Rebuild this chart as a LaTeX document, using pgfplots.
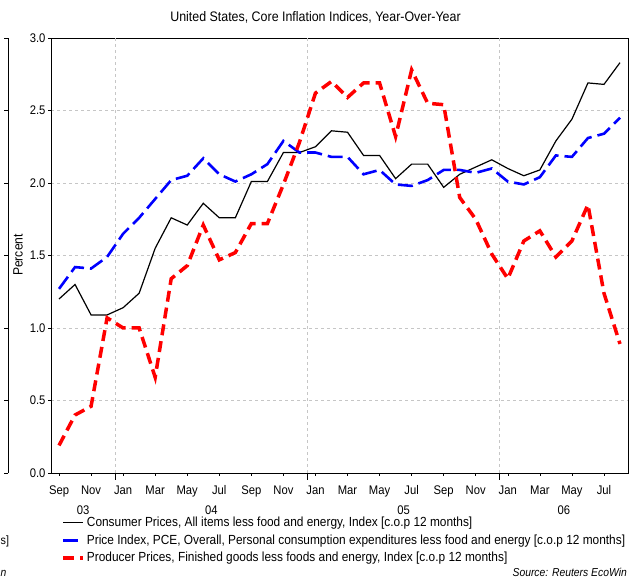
\documentclass[border=0pt]{standalone}
\usepackage{fontspec}
\setmainfont{Liberation Sans}[FakeStretch=0.9]
\usepackage{pgfplots}
\usepackage{pgfplotstable}
\pgfplotsset{compat=1.18}

\pgfplotstableread{
i  cpi   pce   ppi
0  1.20  1.27  0.19
1  1.30  1.42  0.40
2  1.09  1.41  0.46
3  1.09  1.49  1.07
4  1.14  1.65  1.00
5  1.24  1.76  1.00
6  1.55  1.89  0.66
7  1.76  2.02  1.34
8  1.71  2.05  1.43
9  1.86  2.17  1.71
10 1.76  2.06  1.47
11 1.76  2.01  1.52
12 2.01  2.06  1.72
13 2.01  2.13  1.72
14 2.21  2.29  1.99
15 2.21  2.21  2.28
16 2.25  2.21  2.62
17 2.36  2.18  2.70
18 2.35  2.18  2.59
19 2.19  2.06  2.69
20 2.19  2.09  2.69
21 2.03  1.99  2.32
22 2.13  1.98  2.78
23 2.13  2.02  2.55
24 1.97  2.09  2.54
25 2.06  2.09  1.90
26 2.11  2.07  1.75
27 2.16  2.10  1.51
28 2.10  2.01  1.34
29 2.05  1.99  1.60
30 2.09  2.04  1.67
31 2.29  2.19  1.49
32 2.44  2.18  1.60
33 2.69  2.31  1.85
34 2.68  2.34  1.24
35 2.83  2.45  0.89
}\datatable

\begin{document}
\begin{tikzpicture}[x=1bp,y=1bp]
\useasboundingbox (0,0) rectangle (632,579);
% fragment of neighbouring chart at the left edge
\draw[line width=0.8bp] (8,106) -- (8,541);
\foreach \yy in {106,178.5,251,323.5,396,468.5,541} \draw[line width=0.8bp] (8,\yy) -- (4,\yy);
\node[anchor=west, inner sep=0pt, font=\fontsize{12bp}{14bp}\selectfont] at (0.5,38) {s]};
\node[anchor=west, inner sep=0pt, font=\itshape\fontsize{11.5bp}{13bp}\selectfont] at (0.5,6) {n};
\begin{axis}[
  at={(51bp,106bp)}, anchor=south west,
  width=577bp, height=435bp, scale only axis,
  xmin=-0.5, xmax=35.5, ymin=0, ymax=3,
  clip=false,
  axis line style={line width=0.8bp},
  ytick={0,0.5,1,1.5,2,2.5,3},
  yticklabel style={xshift=1bp, /pgf/number format/.cd, fixed, fixed zerofill, precision=1},
  /pgf/number format/assume math mode=true,
  xtick={0,2,...,34},
  xticklabels={Sep,Nov,Jan,Mar,May,Jul,Sep,Nov,Jan,Mar,May,Jul,Sep,Nov,Jan,Mar,May,Jul},
  extra x ticks={3.5,15.5,27.5}, extra x tick labels={},
  extra x tick style={grid=major, major tick length=7bp, tick align=outside, tick style={line width=0.8bp,black}},
  ymajorgrids,
  grid style={gray!45, dash pattern=on 3bp off 3bp, line width=0.6bp},
  tick align=outside, major tick length=3bp,
  xtick pos=bottom, ytick pos=left,
  tick style={black, line width=0.6bp},
  tick label style={font=\fontsize{12.5bp}{14bp}\selectfont},
  xticklabel style={yshift=-6bp},
  legend style={at={(0.016,-0.094)}, anchor=north west, draw=none, fill=none,
    font=\fontsize{13.2bp}{15bp}\selectfont, row sep=2.6bp, inner sep=1bp,
    cells={anchor=west}},
  legend cell align=left,
  legend image code/.code={\draw[#1] (0bp,0bp) -- (20bp,0bp);},
]
\addplot[black, line width=1.2bp] table[x=i, y=cpi] {\datatable};
\addlegendentry{Consumer Prices, All items less food and energy, Index [c.o.p 12 months]}
\addplot[blue, line width=2.6bp, dash pattern=on 15bp off 6bp] table[x=i, y=pce] {\datatable};
\addlegendentry{Price Index, PCE, Overall, Personal consumption expenditures less food and energy [c.o.p 12 months]}
\addplot[red, line width=3.5bp, dash pattern=on 11bp off 6bp] table[x=i, y=ppi] {\datatable};
\addlegendentry{Producer Prices, Finished goods less foods and energy, Index [c.o.p 12 months]}
\node[font=\fontsize{12.5bp}{14bp}\selectfont] at (axis cs:1.5,0) [yshift=-37bp] {03};
\node[font=\fontsize{12.5bp}{14bp}\selectfont] at (axis cs:9.5,0) [yshift=-37bp] {04};
\node[font=\fontsize{12.5bp}{14bp}\selectfont] at (axis cs:21.5,0) [yshift=-37bp] {05};
\node[font=\fontsize{12.5bp}{14bp}\selectfont] at (axis cs:31.5,0) [yshift=-37bp] {06};
\end{axis}
\node[font=\fontsize{13.8bp}{16bp}\selectfont] at (315.5,562) {United States, Core Inflation Indices, Year-Over-Year};
\node[rotate=90, font=\fontsize{13.5bp}{15bp}\selectfont] at (18,324) {Percent};
\node[anchor=south east, inner sep=0pt, font=\itshape\fontsize{11.5bp}{13bp}\selectfont] at (627,2) {Source: Reuters EcoWin};
\end{tikzpicture}
\end{document}
